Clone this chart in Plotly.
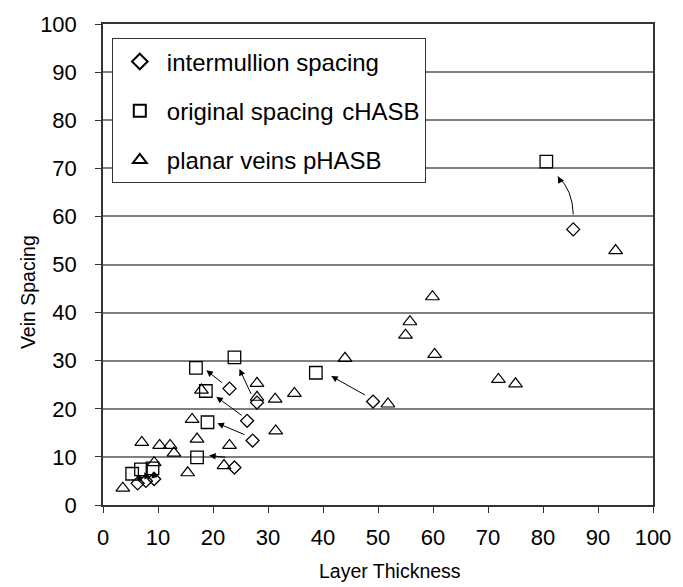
import plotly.graph_objects as go

# ---- data ----
inter_x = [6.3, 7.8, 9.3, 23.9, 27.2, 26.2, 23.0, 28.0, 49.1, 85.5]
inter_y = [4.5, 5.0, 5.4, 7.8, 13.4, 17.5, 24.2, 21.3, 21.5, 57.3]

orig_x = [5.3, 6.9, 9.0, 17.1, 19.0, 18.7, 16.9, 23.9, 38.7, 80.6]
orig_y = [6.5, 7.4, 7.6, 9.9, 17.2, 23.7, 28.5, 30.7, 27.5, 71.4]

planar_x = [3.6, 7.05, 10.3, 12.2, 12.9, 9.3, 15.4, 16.2, 17.1, 17.9, 22.0, 23.0, 28.0,
            28.0, 31.3, 31.4, 34.8, 44.0, 51.8, 55.0, 55.8, 59.9, 60.3, 71.9, 75.0, 93.2]
planar_y = [3.5, 13.0, 12.4, 12.4, 10.8, 8.8, 6.7, 17.8, 13.7, 23.9, 8.2, 12.4, 25.3,
            22.4, 22.0, 15.4, 23.2, 30.5, 21.0, 35.3, 38.1, 43.3, 31.3, 26.1, 25.2, 52.9]

series_names = ["intermullion spacing", "original spacing\u200a cHASB", "planar veins pHASB"]

# straight arrows: (tail_x, tail_y, head_x, head_y)
arrows = [
    (47.9, 22.7, 41.5, 26.8),
    (21.9, 25.2, 18.8, 28.0),
    (27.05, 22.8, 24.8, 28.3),
    (25.5, 18.4, 20.6, 22.5),
    (26.0, 14.5, 20.8, 17.0),
    (22.5, 9.9, 19.3, 10.3),
    (6.6, 5.6, 6.0, 6.3),
    (8.0, 5.7, 7.5, 6.8),
    (9.3, 6.0, 9.1, 7.0),
]
# curved arrow: start, control, end
curve = ((85.5, 60.4), (85.4, 65.5), (82.7, 68.3))

x_ticks = list(range(0, 101, 10))
y_ticks = list(range(0, 101, 10))

FONT = "Liberation Sans, Arial, sans-serif"
fig = go.Figure()
fig.add_trace(go.Scatter(x=inter_x, y=inter_y, mode="markers", name=series_names[0],
                         legendgroup="a",
                         marker=dict(symbol="diamond-open", size=10, color="black", line=dict(width=1.3))))
fig.add_trace(go.Scatter(x=orig_x, y=orig_y, mode="markers", name=series_names[1],
                         legendgroup="b",
                         marker=dict(symbol="square-open", size=12.5, color="black", line=dict(width=1.3))))
fig.add_trace(go.Scatter(x=planar_x, y=planar_y, mode="markers", name=series_names[2],
                         legendgroup="c",
                         marker=dict(symbol="triangle-up-open", size=12, color="black", line=dict(width=1.2))))

annotations = []
for tx, ty, hx, hy in arrows:
    annotations.append(dict(x=hx, y=hy, ax=tx, ay=ty, xref="x", yref="y", axref="x", ayref="y",
                            text="", showarrow=True, arrowhead=2, arrowsize=1.3, arrowwidth=1,
                            arrowcolor="black"))
(s0, c0, e0) = curve
annotations.append(dict(x=e0[0], y=e0[1], ax=e0[0] + 0.6, ay=e0[1] - 1.2, xref="x", yref="y",
                        axref="x", ayref="y", text="", showarrow=True, arrowhead=2, arrowsize=1.3,
                        arrowwidth=1, arrowcolor="black"))
# axis titles
annotations.append(dict(text="Layer Thickness", x=0.522, y=-0.138, xref="paper", yref="paper",
                        xanchor="center", yanchor="middle", showarrow=False,
                        font=dict(size=19.5)))
annotations.append(dict(text="Vein Spacing", x=-0.136, y=0.443, xref="paper", yref="paper",
                        xanchor="center", yanchor="middle", showarrow=False, textangle=-90,
                        font=dict(size=19.5)))

shapes = [dict(type="path", xref="x", yref="y",
               path=f"M {s0[0]},{s0[1]} Q {c0[0]},{c0[1]} {e0[0]},{e0[1]}",
               line=dict(color="black", width=1))]

fig.update_layout(
    width=683, height=587,
    margin=dict(l=103, r=30, t=20, b=82),
    paper_bgcolor="white", plot_bgcolor="white",
    font=dict(family=FONT, size=22, color="black"),
    showlegend=True,
    legend=dict(x=0.016, y=0.970, xanchor="left", yanchor="top",
                bordercolor="#333333", borderwidth=1, bgcolor="white",
                font=dict(size=24), tracegroupgap=15, itemwidth=44, itemsizing="constant"),
    annotations=annotations,
    shapes=shapes,
)
fig.update_xaxes(range=[0, 100], tickvals=x_ticks, showgrid=False, zeroline=False,
                 showline=True, linecolor="#333333", linewidth=1.5, mirror=True,
                 ticks="outside", ticklen=6, tickcolor="#333333", ticklabelstandoff=6,
                 tickfont=dict(size=22))
fig.update_yaxes(range=[0, 100], tickvals=y_ticks, showgrid=True, gridcolor="#808080", gridwidth=1.5,
                 zeroline=False, showline=True, linecolor="#333333", linewidth=1.5, mirror=True,
                 ticks="outside", ticklen=6, tickcolor="#333333", ticklabelstandoff=14,
                 tickfont=dict(size=22))

fig.write_html("out.html")
